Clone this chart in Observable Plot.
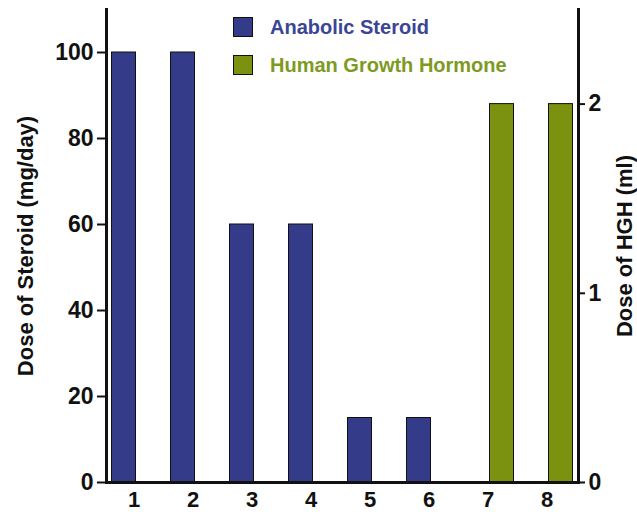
<!DOCTYPE html>
<html><head><meta charset="utf-8">
<script src="https://cdn.jsdelivr.net/npm/d3@7"></script>
<script src="https://cdn.jsdelivr.net/npm/@observablehq/plot@0.6"></script>
<style>
body{margin:0;background:#fff;}
#wrap{position:relative;width:637px;height:512px;font-family:"Liberation Sans",Arial,sans-serif;font-weight:bold;}
#wrap svg{display:block;}
.leg{position:absolute;left:233px;height:20px;display:flex;align-items:center;font-size:20px;white-space:nowrap;}
.sw{box-sizing:border-box;width:20px;height:20px;border:1.5px solid #111;margin-right:17px;}
</style></head><body><div id="wrap"></div>
<script>
const categories = ["1","2","3","4","5","6","7","8"];
const steroidDose = [100,100,60,60,15,15,0,0];
const hghDose = [0,0,0,0,0,0,2,2];
const seriesNames = ["Anabolic Steroid","Human Growth Hormone"];
const seriesColors = ["#343C89","#7A9210"];
const legendTextColors = ["#3A4596","#7E9A1F"];
const leftTicks = [0,20,40,60,80,100];
const rightTicks = [0,1,2];
const leftTitle = "Dose of Steroid (mg/day)";
const rightTitle = "Dose of HGH (ml)";
const leftMax = 110, rightMax = 2.5;
const k = leftMax / rightMax;

const steroidRows = categories.map((c,i)=>({cat:c, v:steroidDose[i]})).filter(d=>d.v>0);
const hghRows = categories.map((c,i)=>({cat:c, v:hghDose[i]})).filter(d=>d.v>0);

const W = 637, H = 512, mL = 106, mR = 59, mT = 9, mB = 30;
const bw = (W - mL - mR) / categories.length;
const barW = 24;
const outer = (bw - 2*barW) / 2;
const FONT = '"Liberation Sans",Arial,sans-serif';

const chart = Plot.plot({
  width: W, height: H,
  marginLeft: mL, marginRight: mR, marginTop: mT, marginBottom: mB,
  style: {fontFamily: FONT, fontWeight: "bold", fontSize: "23px", color: "#111", background: "transparent", overflow: "visible"},
  x: {domain: categories, padding: 0},
  y: {domain: [0, leftMax]},
  marks: [
    Plot.barY(steroidRows, {x: "cat", y: "v", fill: seriesColors[0], stroke: "#111", strokeWidth: 1, insetLeft: outer, insetRight: outer + barW}),
    Plot.barY(hghRows, {x: "cat", y: d => d.v * k, fill: seriesColors[1], stroke: "#111", strokeWidth: 1, insetLeft: outer + barW, insetRight: outer}),
    Plot.axisX({tickSize: 0, tickPadding: 9, dx: -2, label: null, fontSize: 22}),
    Plot.axisY({anchor: "left", ticks: leftTicks, tickSize: 9, tickPadding: 4, strokeWidth: 2, label: null, fontSize: 23}),
    Plot.axisY({anchor: "right", ticks: rightTicks.map(t => t * k), tickFormat: d => String(Math.round(d / k)), tickSize: 6, tickPadding: 4, strokeWidth: 2, label: null, fontSize: 23}),
    Plot.ruleY([0], {strokeWidth: 3, stroke: "#111"}),
    Plot.frame({anchor: "left", strokeWidth: 3, stroke: "#111"}),
    Plot.frame({anchor: "right", strokeWidth: 3, stroke: "#111"}),
    Plot.text([leftTitle], {text: d => d, frameAnchor: "left", dx: -81, rotate: -90, textAnchor: "middle", lineAnchor: "middle", fontSize: 22, fill: "#111"}),
    Plot.text([rightTitle], {text: d => d, frameAnchor: "right", dx: 46, rotate: -90, textAnchor: "middle", lineAnchor: "middle", fontSize: 22, fill: "#111"})
  ]
});
const wrap = document.getElementById("wrap");
wrap.appendChild(chart);
const legTops = [17, 55];
seriesNames.forEach((name, i) => {
  const row = document.createElement("div");
  row.className = "leg";
  row.style.top = legTops[i] + "px";
  const sw = document.createElement("div");
  sw.className = "sw";
  sw.style.background = seriesColors[i];
  const t = document.createElement("span");
  t.textContent = name;
  t.style.color = legendTextColors[i];
  row.appendChild(sw); row.appendChild(t);
  wrap.appendChild(row);
});
</script></body></html>
